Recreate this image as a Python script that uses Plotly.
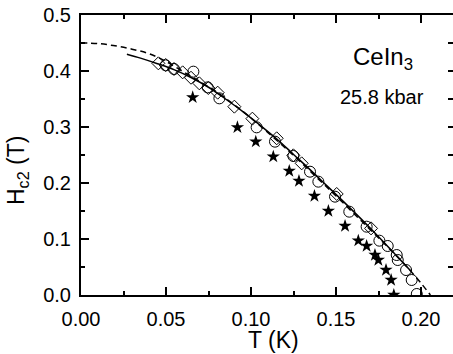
import plotly.graph_objects as go

# ---- data ----
diam_T = [0.0455, 0.0498, 0.0547, 0.0598, 0.0647, 0.0696, 0.0749, 0.0804, 0.0902, 0.1008, 0.1151, 0.1249, 0.1298, 0.1504, 0.1706]
diam_H = [0.4137, 0.4107, 0.4036, 0.3976, 0.3880, 0.3780, 0.3696, 0.3613, 0.3363, 0.3149, 0.2798, 0.2494, 0.2351, 0.1804, 0.1190]

circ_T = [0.0498, 0.0547, 0.0661, 0.0745, 0.0814, 0.1033, 0.1141, 0.1249, 0.1347, 0.1396, 0.1494, 0.1578, 0.1680, 0.1755, 0.1804, 0.1857, 0.1863, 0.1912, 0.1945, 0.1975]
circ_H = [0.4101, 0.4036, 0.3988, 0.3708, 0.3512, 0.2994, 0.2738, 0.2482, 0.2202, 0.2024, 0.1756, 0.1488, 0.1220, 0.0970, 0.0875, 0.0714, 0.0625, 0.0446, 0.0268, 0.0018]

star_T = [0.0657, 0.0920, 0.1028, 0.1131, 0.1225, 0.1282, 0.1373, 0.1455, 0.1553, 0.1631, 0.1680, 0.1729, 0.1749, 0.1794, 0.1824, 0.1840]
star_H = [0.3530, 0.2994, 0.2738, 0.2470, 0.2214, 0.2036, 0.1768, 0.1500, 0.1232, 0.0970, 0.0875, 0.0714, 0.0625, 0.0446, 0.0268, 0.0000]

solid_T = [0.027, 0.035, 0.045, 0.055, 0.065, 0.075, 0.085, 0.095, 0.105, 0.115, 0.125, 0.135, 0.145, 0.155, 0.165, 0.175, 0.185, 0.194]
solid_H = [0.430, 0.423, 0.413, 0.402, 0.388, 0.371, 0.350, 0.328, 0.304, 0.279, 0.251, 0.223, 0.194, 0.165, 0.135, 0.104, 0.072, 0.043]

dash_T = [0.0, 0.01, 0.02, 0.03, 0.04, 0.05, 0.06, 0.07, 0.08, 0.09, 0.10, 0.11, 0.12, 0.13, 0.14, 0.15, 0.16, 0.17, 0.18, 0.19, 0.20, 0.2055]
dash_H = [0.450, 0.449, 0.445, 0.439, 0.431, 0.417, 0.399, 0.381, 0.362, 0.340, 0.316, 0.290, 0.263, 0.235, 0.206, 0.177, 0.147, 0.117, 0.087, 0.056, 0.021, 0.0]

FONT = "Liberation Sans, Arial, sans-serif"

fig = go.Figure()
fig.add_trace(go.Scatter(x=dash_T, y=dash_H, mode="lines", line=dict(color="black", width=1.5, dash="6px,4px", shape="spline"),
                         showlegend=False, hoverinfo="skip"))
fig.add_trace(go.Scatter(x=solid_T, y=solid_H, mode="lines", line=dict(color="black", width=1.5, shape="spline"),
                         showlegend=False, hoverinfo="skip"))
fig.add_trace(go.Scatter(x=diam_T, y=diam_H, mode="markers",
                         marker=dict(symbol="diamond-open", size=10, color="black", line=dict(width=1)), showlegend=False))
fig.add_trace(go.Scatter(x=circ_T, y=circ_H, mode="markers",
                         marker=dict(symbol="circle-open", size=11, color="black", line=dict(width=1)), showlegend=False))
fig.add_trace(go.Scatter(x=star_T, y=star_H, mode="markers",
                         marker=dict(symbol="star", size=10, color="black", line=dict(width=0)), showlegend=False))
# helper trace for right-hand tick axis
fig.add_trace(go.Scatter(x=[None], y=[None], yaxis="y2", showlegend=False, hoverinfo="skip"))

tickfont = dict(family=FONT, size=20, color="black")
plot_h = 354 - 15 - 59
plot_w = 453 - 81
fig.update_layout(
    width=453, height=354,
    margin=dict(l=81, r=0, t=15, b=59),
    paper_bgcolor="white", plot_bgcolor="white",
    xaxis=dict(range=[0, 0.2188], dtick=0.05, tick0=0, tickformat=".2f",
               showline=True, linecolor="black", linewidth=2, mirror="ticks",
               ticks="inside", ticklen=8, tickwidth=2, tickcolor="black",
               minor=dict(dtick=0.025, ticks="inside", ticklen=4, tickwidth=2, tickcolor="black"),
               showgrid=False, zeroline=False, tickfont=tickfont, ticklabelstandoff=5),
    yaxis=dict(range=[0, 0.5], dtick=0.1, tick0=0, tickformat=".1f",
               showline=True, linecolor="black", linewidth=2, mirror=False,
               ticks="inside", ticklen=8, tickwidth=2, tickcolor="black",
               minor=dict(dtick=0.05, ticks="inside", ticklen=4, tickwidth=2, tickcolor="black"),
               showgrid=False, zeroline=False, tickfont=tickfont, ticklabelstandoff=4),
    yaxis2=dict(range=[0, 0.5], overlaying="y", side="right", dtick=0.05, tick0=0,
                showline=False, showticklabels=False, ticks="inside", ticklen=5, tickwidth=2, tickcolor="black",
                showgrid=False, zeroline=False),
    annotations=[
        dict(text="T (K)", x=(273 - 81) / plot_w, y=(295 - 340) / plot_h, xref="paper", yref="paper",
             xanchor="center", yanchor="middle", showarrow=False,
             font=dict(family=FONT, size=23, color="black")),
        dict(text="H<sub>c2</sub> (T)", x=(17 - 81) / plot_w, y=(295 - 171) / plot_h,
             xref="paper", yref="paper", textangle=-90, showarrow=False,
             xanchor="center", yanchor="middle", font=dict(family=FONT, size=23, color="black")),
        dict(text="CeIn<sub>3</sub>", x=0.1775, y=0.422, xref="x", yref="y", showarrow=False,
             xanchor="center", yanchor="middle", font=dict(family=FONT, size=24, color="black")),
        dict(text="25.8 kbar", x=0.1770, y=0.353, xref="x", yref="y", showarrow=False,
             xanchor="center", yanchor="middle", font=dict(family=FONT, size=20, color="black")),
    ],
)

fig.write_html("out.html")
